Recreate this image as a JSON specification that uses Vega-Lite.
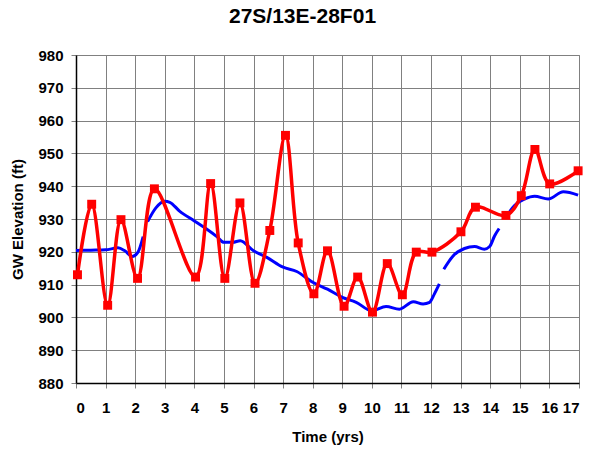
{
  "$schema": "https://vega.github.io/schema/vega-lite/v6.json",
  "autosize": {"type": "none"},
  "width": 503,
  "height": 328,
  "padding": {"left": 76, "top": 55, "right": 10, "bottom": 67},
  "background": "white",
  "title": {
    "text": "27S/13E-28F01",
    "font": "Liberation Sans",
    "fontSize": 21,
    "fontWeight": "bold",
    "color": "#000000",
    "anchor": "middle",
    "dx": -25,
    "offset": 21
  },
  "config": {
    "view": {"stroke": "#888888", "strokeWidth": 1},
    "axis": {
      "labelFont": "Liberation Sans",
      "labelFontSize": 15,
      "labelFontWeight": "bold",
      "labelColor": "#000000",
      "titleFont": "Liberation Sans",
      "titleFontSize": 15,
      "titleFontWeight": "bold",
      "titleColor": "#000000",
      "gridColor": "#808080",
      "gridOpacity": 1,
      "gridWidth": 1,
      "domainColor": "#000000",
      "domainWidth": 1.5,
      "tickColor": "#808080",
      "tickSize": 5
    }
  },
  "datasets": {
    "red": [
      {"t": 0.05, "v": 913.0}, {"t": 0.53, "v": 934.5}, {"t": 1.07, "v": 903.7},
      {"t": 1.52, "v": 929.8}, {"t": 2.08, "v": 911.9}, {"t": 2.65, "v": 939.2},
      {"t": 4.04, "v": 912.3}, {"t": 4.55, "v": 940.8}, {"t": 5.03, "v": 911.9},
      {"t": 5.54, "v": 934.9}, {"t": 6.05, "v": 910.4}, {"t": 6.55, "v": 926.5},
      {"t": 7.08, "v": 955.5}, {"t": 7.51, "v": 922.7}, {"t": 8.04, "v": 907.2},
      {"t": 8.5, "v": 920.3}, {"t": 9.06, "v": 903.4}, {"t": 9.52, "v": 912.3},
      {"t": 10.02, "v": 901.6}, {"t": 10.52, "v": 916.4}, {"t": 11.03, "v": 906.9},
      {"t": 11.5, "v": 919.9}, {"t": 12.03, "v": 919.9}, {"t": 13.01, "v": 926.1},
      {"t": 13.5, "v": 933.6}, {"t": 14.53, "v": 931.1}, {"t": 15.05, "v": 937.1},
      {"t": 15.51, "v": 951.2}, {"t": 16.01, "v": 940.7}, {"t": 16.97, "v": 944.7}
    ],
    "blue": [
      {"seg": "a", "t": 0.0, "v": 920.4}, {"seg": "a", "t": 0.5, "v": 920.5},
      {"seg": "a", "t": 1.0, "v": 920.6}, {"seg": "a", "t": 1.42, "v": 921.2},
      {"seg": "a", "t": 1.65, "v": 920.3}, {"seg": "a", "t": 1.9, "v": 918.6},
      {"seg": "a", "t": 2.09, "v": 919.8}, {"seg": "a", "t": 2.27, "v": 924.6},
      {"seg": "b", "t": 2.42, "v": 929.2}, {"seg": "b", "t": 2.7, "v": 933.4},
      {"seg": "b", "t": 3.0, "v": 935.4}, {"seg": "b", "t": 3.17, "v": 935.1},
      {"seg": "b", "t": 3.5, "v": 932.4}, {"seg": "b", "t": 4.0, "v": 929.4},
      {"seg": "b", "t": 4.4, "v": 927.0}, {"seg": "b", "t": 4.75, "v": 924.7},
      {"seg": "b", "t": 5.0, "v": 922.9}, {"seg": "b", "t": 5.3, "v": 922.9},
      {"seg": "b", "t": 5.55, "v": 923.4}, {"seg": "b", "t": 6.0, "v": 920.3},
      {"seg": "b", "t": 6.45, "v": 918.3}, {"seg": "b", "t": 7.0, "v": 915.3},
      {"seg": "b", "t": 7.46, "v": 914.0}, {"seg": "b", "t": 8.0, "v": 910.7},
      {"seg": "b", "t": 8.5, "v": 908.6}, {"seg": "b", "t": 9.0, "v": 906.1},
      {"seg": "b", "t": 9.47, "v": 904.6}, {"seg": "b", "t": 10.0, "v": 902.0},
      {"seg": "b", "t": 10.48, "v": 903.3}, {"seg": "b", "t": 10.93, "v": 902.5},
      {"seg": "b", "t": 11.4, "v": 904.8}, {"seg": "b", "t": 11.73, "v": 904.1},
      {"seg": "b", "t": 11.95, "v": 904.6}, {"seg": "b", "t": 12.11, "v": 907.1},
      {"seg": "b", "t": 12.28, "v": 910.2},
      {"seg": "c", "t": 12.43, "v": 914.7}, {"seg": "c", "t": 12.73, "v": 918.6},
      {"seg": "c", "t": 13.13, "v": 921.0}, {"seg": "c", "t": 13.47, "v": 921.6},
      {"seg": "c", "t": 13.8, "v": 920.8}, {"seg": "c", "t": 13.98, "v": 921.6},
      {"seg": "c", "t": 14.15, "v": 924.9}, {"seg": "c", "t": 14.3, "v": 927.1},
      {"seg": "d", "t": 14.56, "v": 931.0}, {"seg": "d", "t": 14.83, "v": 934.2},
      {"seg": "d", "t": 15.17, "v": 936.1}, {"seg": "d", "t": 15.5, "v": 936.9},
      {"seg": "d", "t": 15.96, "v": 936.1}, {"seg": "d", "t": 16.47, "v": 938.3},
      {"seg": "d", "t": 16.97, "v": 937.3}
    ]
  },
  "encoding": {
    "x": {
      "field": "t", "type": "quantitative",
      "scale": {"domain": [0, 17], "nice": false, "zero": false},
      "axis": {
        "title": "Time (yrs)",
        "values": [0,1,2,3,4,5,6,7,8,9,10,11,12,13,14,15,16,17],
        "labelPadding": 12,
        "titlePadding": 14
      }
    },
    "y": {
      "field": "v", "type": "quantitative",
      "scale": {"domain": [880, 980], "nice": false, "zero": false},
      "axis": {
        "title": "GW Elevation (ft)",
        "values": [880,890,900,910,920,930,940,950,960,970,980],
        "labelPadding": 8,
        "titlePadding": 12
      }
    }
  },
  "layer": [
    {
      "data": {"name": "blue"},
      "mark": {"type": "line", "interpolate": "monotone", "color": "#0000FF", "strokeWidth": 3},
      "encoding": {"detail": {"field": "seg", "type": "nominal"}}
    },
    {
      "data": {"name": "red"},
      "mark": {"type": "line", "interpolate": "catmull-rom", "color": "#FF0000", "strokeWidth": 3.5}
    },
    {
      "data": {"name": "red"},
      "mark": {"type": "square", "size": 80, "filled": true, "color": "#FF0000", "opacity": 1}
    }
  ]
}
